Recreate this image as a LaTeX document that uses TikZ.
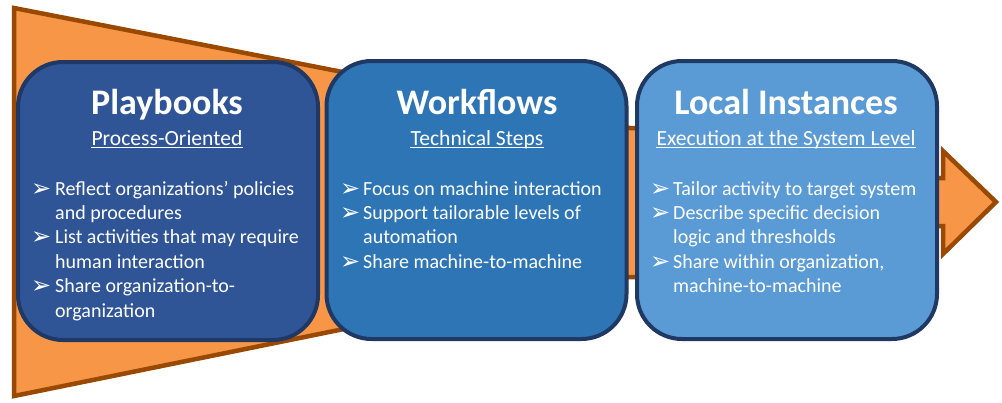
\documentclass[tikz,border=0pt]{standalone}
\usepackage{fontspec}
\setmainfont{Carlito}
\newfontfamily\dingfont{DejaVu Sans}
\definecolor{orangefill}{HTML}{F79646}
\definecolor{orangeedge}{HTML}{9A4A00}
\definecolor{navyedge}{HTML}{1F3864}
\definecolor{stageA}{HTML}{2F5597}
\definecolor{stageB}{HTML}{2E75B6}
\definecolor{stageC}{HTML}{5B9BD5}
\begin{document}
\begin{tikzpicture}[x=1pt,y=-1pt,
  funnel/.style={fill=orangefill, draw=orangeedge, line width=4.5pt, line join=miter},
  stagebox/.style={draw=navyedge, line width=4pt, rounded corners=45pt,
    minimum width=300pt, minimum height=278pt, inner sep=0pt},
  title/.style={text=white, font=\fontsize{36}{40}\selectfont\bfseries, anchor=base, inner sep=0pt},
  subtitle/.style={text=white, font=\fontsize{21.6}{26}\selectfont, anchor=base, inner sep=0pt},
  sline/.style={draw=white, line width=1.3pt},
  item/.style={text=white, font=\fontsize{20}{24}\selectfont, anchor=base west, inner sep=0pt},
  bulletmark/.style={text=white, font=\dingfont\fontsize{24}{28}\selectfont, anchor=base west, inner sep=0pt}
]
\useasboundingbox (0,0) rectangle (1002,402);

% tapering funnel behind the stages
\draw[funnel] (14,8) -- (630,128) -- (720,128) -- (720,277) -- (600,277) -- (14,396) -- cycle;
% outgoing arrow
\draw[funnel] (880,178) -- (943,178) -- (943,151) -- (996,202) -- (943,254) -- (943,226) -- (880,226) -- cycle;

% the three stages
\node[stagebox, fill=stageA] (pb) at (168,201) {};
\node[stagebox, fill=stageB] (wf) at (476.5,200) {};
\node[stagebox, fill=stageC] (li) at (787,200) {};

% titles and subtitles
\node[title] (pbt) at (167,114) {Playbooks};
\node[title] (wft) at (477,114) {Workflows};
\node[title] (lit) at (786,114) {Local Instances};
\node[subtitle] (pbs) at (167,145) {Process-Oriented};
\node[subtitle] (wfs) at (477,145) {Technical Steps};
\node[subtitle] (lis) at (786,145) {Execution at the System Level};
\foreach \s in {pbs,wfs,lis}
  \draw[sline] ([yshift=-2.5pt]\s.base west) -- ([yshift=-2.5pt]\s.base east);

% Playbooks list
\node[bulletmark] (pbm1) at (31,196) {➢};
\node[item] (pbl1) at (55,195) {Reflect organizations’ policies};
\node[item] (pbl2) at (55,219.4) {and procedures};
\node[bulletmark] (pbm2) at (31,244.8) {➢};
\node[item] (pbl3) at (55,243.8) {List activities that may require};
\node[item] (pbl4) at (55,268.2) {human interaction};
\node[bulletmark] (pbm3) at (31,293.6) {➢};
\node[item] (pbl5) at (55,292.6) {Share organization-to-};
\node[item] (pbl6) at (55,317) {organization};

% Workflows list
\node[bulletmark] (wfm1) at (340,196) {➢};
\node[item] (wfl1) at (363,195) {Focus on machine interaction};
\node[bulletmark] (wfm2) at (340,220.4) {➢};
\node[item] (wfl2) at (363,219.4) {Support tailorable levels of};
\node[item] (wfl3) at (363,243.8) {automation};
\node[bulletmark] (wfm3) at (340,269.2) {➢};
\node[item] (wfl4) at (363,268.2) {Share machine-to-machine};

% Local Instances list
\node[bulletmark] (lim1) at (650,196) {➢};
\node[item] (lil1) at (673,195) {Tailor activity to target system};
\node[bulletmark] (lim2) at (650,220.4) {➢};
\node[item] (lil2) at (673,219.4) {Describe specific decision};
\node[item] (lil3) at (673,243.8) {logic and thresholds};
\node[bulletmark] (lim3) at (650,269.2) {➢};
\node[item] (lil4) at (673,268.2) {Share within organization,};
\node[item] (lil5) at (673,292.6) {machine-to-machine};
\end{tikzpicture}
\end{document}
